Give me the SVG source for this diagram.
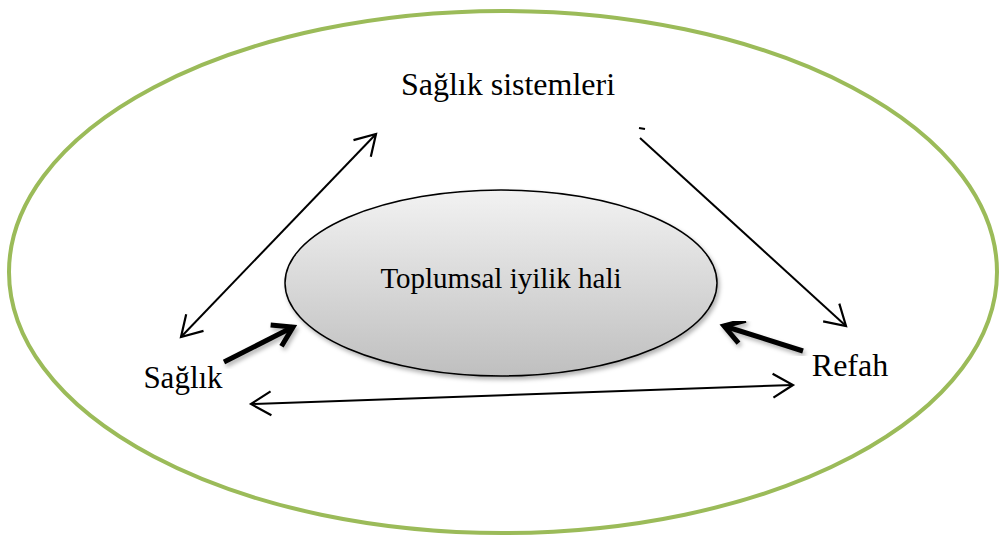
<svg xmlns="http://www.w3.org/2000/svg" width="1000" height="536" viewBox="0 0 1000 536">
<defs>
<linearGradient id="g" x1="0" y1="0" x2="0" y2="1">
<stop offset="0" stop-color="#f2f2f2"/>
<stop offset="1" stop-color="#bfbfbf"/>
</linearGradient>
<marker id="open2" markerWidth="28" markerHeight="28" refX="24" refY="14" orient="auto-start-reverse" markerUnits="userSpaceOnUse" viewBox="0 0 28 28">
<path d="M4,2 L24,14 L4,26" fill="none" stroke="#000" stroke-width="2.2"/>
</marker>
<marker id="thick" markerWidth="30" markerHeight="30" refX="25" refY="15" orient="auto" markerUnits="userSpaceOnUse" viewBox="0 0 30 30">
<path d="M6,3 L25,15 L6,27" fill="none" stroke="#000" stroke-width="5"/>
</marker>
<filter id="sh" x="-20%" y="-20%" width="140%" height="140%">
<feDropShadow dx="2" dy="3" stdDeviation="2" flood-color="#000" flood-opacity="0.3"/>
</filter>
</defs>
<style>
.t{font-family:"Liberation Serif","Times New Roman",serif;fill:#000}
.thin{stroke:#000;stroke-width:2;fill:none}
.bold{stroke:#000;stroke-width:5;fill:none}
</style>
<g id="outer">
<ellipse cx="503" cy="272" rx="494" ry="261" fill="none" stroke="#9bbb59" stroke-width="4"/>
</g>
<g id="center">
<ellipse cx="501" cy="283" rx="216" ry="93" fill="url(#g)" stroke="#000" stroke-width="1.5" filter="url(#sh)"/>
<text class="t" x="501" y="288" font-size="29" text-anchor="middle">Toplumsal iyilik hali</text>
</g>
<g id="saglik-sistemleri">
<text class="t" x="508" y="95" font-size="32" text-anchor="middle">Sağlık sistemleri</text>
</g>
<g id="saglik">
<text class="t" x="183" y="388" font-size="31" text-anchor="middle">Sağlık</text>
</g>
<g id="refah">
<text class="t" x="850" y="376" font-size="32" text-anchor="middle">Refah</text>
</g>
<g id="connectors">
<line class="thin" x1="181" y1="337" x2="376" y2="134" marker-start="url(#open2)" marker-end="url(#open2)"/>
<line class="thin" x1="640" y1="138" x2="846" y2="326" marker-end="url(#open2)"/>
<line x1="639" y1="128" x2="645" y2="129" stroke="#000" stroke-width="2"/>
<line class="thin" x1="251" y1="404" x2="793" y2="385" marker-start="url(#open2)" marker-end="url(#open2)"/>
<line class="bold" x1="224" y1="362" x2="293" y2="327" marker-end="url(#thick)" filter="url(#sh)"/>
<line class="bold" x1="803" y1="351" x2="724" y2="326" marker-end="url(#thick)" filter="url(#sh)"/>
</g>
</svg>
